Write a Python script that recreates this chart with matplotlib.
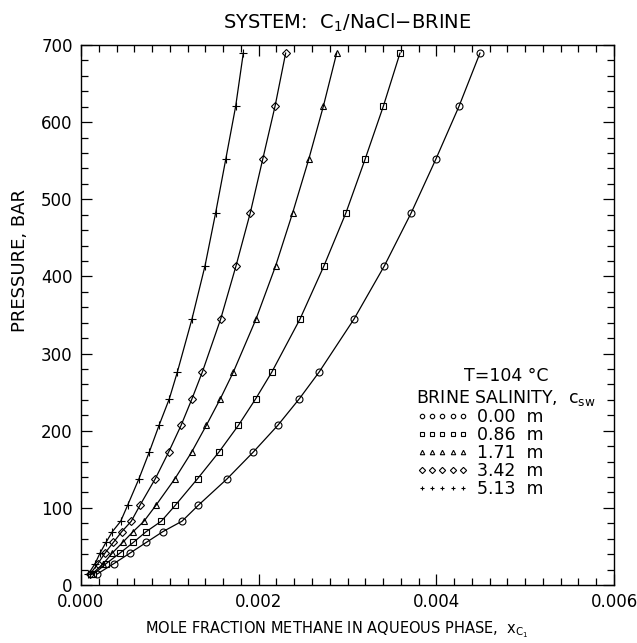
import numpy as np
import matplotlib.pyplot as plt
from matplotlib.lines import Line2D
from matplotlib.ticker import MultipleLocator

# pressures (bar), same set for every salinity
pres = [13.8, 27.6, 41.4, 55.2, 69.0, 82.7, 103.4, 137.9, 172.4, 206.8,
        241.3, 275.8, 344.7, 413.7, 482.6, 551.6, 620.5, 689.5]

# mole fraction methane in aqueous phase for each brine salinity
x_000 = [0.000176, 0.000368, 0.000552, 0.000735, 0.000919, 0.001137, 0.001321, 0.001647,
         0.001940, 0.002214, 0.002457, 0.002679, 0.003073, 0.003415, 0.003718, 0.003993,
         0.004255, 0.004491]
x_086 = [0.000140, 0.000281, 0.000439, 0.000589, 0.000732, 0.000904, 0.001062, 0.001313,
         0.001553, 0.001771, 0.001966, 0.002147, 0.002465, 0.002735, 0.002983, 0.003197,
         0.003403, 0.003591]
x_171 = [0.000120, 0.000251, 0.000352, 0.000469, 0.000585, 0.000709, 0.000844, 0.001058,
         0.001246, 0.001410, 0.001568, 0.001714, 0.001970, 0.002191, 0.002383, 0.002563,
         0.002728, 0.002878]
x_342 = [0.000100, 0.000190, 0.000270, 0.000364, 0.000458, 0.000566, 0.000664, 0.000837,
         0.000987, 0.001126, 0.001249, 0.001365, 0.001572, 0.001745, 0.001906, 0.002045,
         0.002184, 0.002304]
x_513 = [0.000080, 0.000158, 0.000214, 0.000281, 0.000352, 0.000447, 0.000525, 0.000653,
         0.000769, 0.000878, 0.000994, 0.001084, 0.001249, 0.001396, 0.001516, 0.001629,
         0.001741, 0.001827]

salinity = ['0.00', '0.86', '1.71', '3.42', '5.13']
markers = ['o', 's', '^', 'D', '+']
sizes = [5.0, 4.5, 4.5, 4.0, 6.0]

fig = plt.figure(figsize=(6.37, 6.43), dpi=100)
ax = fig.add_axes([81/637, 1 - 585/643, 533/637, 540/643])

series = [x_000, x_086, x_171, x_342, x_513]
for xs, m, s in zip(series, markers, sizes):
    ax.plot(xs, pres, color='black', lw=0.9, marker=m, ms=s,
            mfc='none', mec='black', mew=0.8)

ax.set_xlim(0, 0.006)
ax.set_ylim(0, 700)
ax.xaxis.set_major_locator(MultipleLocator(0.002))
ax.xaxis.set_minor_locator(MultipleLocator(0.0002))
ax.yaxis.set_major_locator(MultipleLocator(100))
ax.yaxis.set_minor_locator(MultipleLocator(20))
ax.xaxis.set_major_formatter(plt.FuncFormatter(lambda v, p: '%.3f' % v))
ax.tick_params(which='both', direction='in', top=True, right=True,
               labelsize=12, width=0.9)
ax.tick_params(which='major', length=8, pad=6)
ax.tick_params(which='minor', length=5)
for sp in ax.spines.values():
    sp.set_linewidth(1.0)

ax.set_title('SYSTEM:  C$_1$/NaCl$-$BRINE', fontsize=14, pad=12)
ax.set_xlabel(r'MOLE FRACTION METHANE IN AQUEOUS PHASE,  x$_{\mathrm{C_1}}$', fontsize=10.5)
ax.xaxis.set_label_coords(0.48, -0.063)
ax.set_ylabel('PRESSURE, BAR', fontsize=13)
ax.yaxis.set_label_coords(-0.097, 0.6)

handles = [Line2D([], [], ls='none', marker=m, ms=3.2, mfc='none', mec='black', mew=0.8)
           for m in markers]
labels = [s + '  m' for s in salinity]
leg = ax.legend(handles, labels, numpoints=5, frameon=False, loc='upper left',
                bbox_to_anchor=(0.6, 0.432), fontsize=12.5, handlelength=3.0,
                handletextpad=0.5, labelspacing=0.0,
                title='T=104 °C\nBRINE SALINITY,  c$_{\\mathrm{sw}}$', title_fontsize=12.5)
leg._legend_box.align = 'left'
leg.get_title().set_multialignment('center')

fig.savefig('out.png', dpi=100)
